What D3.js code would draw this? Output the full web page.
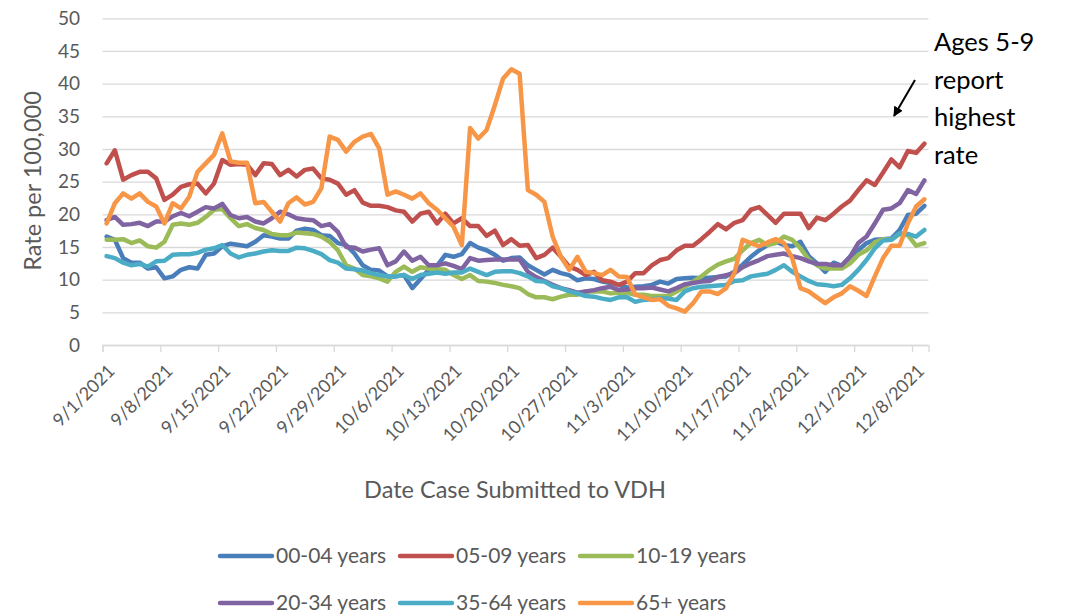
<!DOCTYPE html>
<html>
<head>
<meta charset="utf-8">
<script src="https://cdnjs.cloudflare.com/ajax/libs/d3/7.8.5/d3.min.js"></script>
<style>
  body { margin: 0; background: #fff; }
  svg { font-family: Lato, "Open Sans", sans-serif; }
</style>
</head>
<body>
<div id="chart"></div>
<script>
// daily rates per 100,000, 9/1/2021 .. 12/9/2021
var startDate = Date.UTC(2021, 8, 1);
var yTicks = [0, 5, 10, 15, 20, 25, 30, 35, 40, 45, 50];
var seriesNames = ["00-04 years", "05-09 years", "10-19 years", "20-34 years", "35-64 years", "65+ years"];
var seriesColors = ["#4a7ebb", "#c0504d", "#9bbb59", "#8064a2", "#4bacc6", "#f79646"];

var age0004 = [16.6,16.1,13.3,12.6,12.6,11.7,11.9,10.2,10.5,11.5,11.9,11.7,13.8,14,15.1,15.5,15.3,15.1,15.8,16.8,
  16.6,16.3,16.3,17.5,17.8,17.6,16.8,16.7,15.6,15.3,14,12.2,11.5,11.4,10.5,10.5,10.7,8.7,10.1,11.5,
  12.1,13.8,13.5,13.9,15.6,14.9,14.5,13.8,12.9,13.3,13.4,12.2,11.5,10.8,11.5,11,10.7,9.9,10.2,10.1,
  9.7,9.5,9.2,8.8,8.9,9,9.2,9.7,9.4,10.1,10.2,10.3,10.2,10.3,10.4,10.5,11.2,12.3,13.5,14.5,
  15.3,15.8,15.3,15.1,15.8,13.6,12.5,11.2,12.6,12.1,13.5,14.5,15.6,16.1,16.2,16.3,17.6,19.9,20.1,21.3];
var age0509 = [27.8,29.8,25.3,26,26.5,26.5,25.5,22.2,23,24.2,24.6,24.7,23.2,24.7,28.3,27.6,27.7,27.6,26,27.8,
  27.7,26,26.8,25.8,26.8,27,25.5,25.3,24.7,23,23.7,21.8,21.3,21.3,21.1,20.6,20.4,18.9,20.1,20.4,
  18.6,20.1,18.6,19.4,18.2,18.2,16.7,17.5,15.3,16.2,15.2,15.3,13.3,13.8,14.9,13.5,12,11.5,10.7,11.2,
  9.9,9.7,9.2,9.7,11,11,12.2,13,13.3,14.5,15.2,15.2,16.2,17.3,18.5,17.7,18.7,19.1,20.7,21.1,
  19.9,18.7,20.1,20.1,20.1,17.9,19.5,19.1,20.1,21.2,22.1,23.7,25.2,24.5,26.4,28.4,27.2,29.7,29.4,30.8];
var age1019 = [16.1,16.1,16.2,15.6,16,15.1,14.9,15.8,18.4,18.6,18.4,18.7,19.6,20.7,20.8,19.4,18.2,18.5,17.9,17.6,
  17,16.8,16.8,17.2,17.1,17,16.6,15.8,14.5,12.2,11.7,10.7,10.5,10.2,9.7,11.2,12,11.2,11.9,11.7,
  11.6,11.5,10.7,10.1,10.7,9.8,9.7,9.5,9.2,9,8.7,7.8,7.3,7.3,7,7.4,7.7,7.7,8.2,8.2,
  8.2,7.9,8,8,7.7,7.7,7.5,7.5,7.5,8.2,8.9,9.7,10.5,11.5,12.3,12.8,13.2,14.5,15.6,16.1,
  15.3,15.6,16.6,16.1,14.8,13.1,12.2,11.7,11.7,11.7,12.5,13.8,14.5,15.7,16.2,16.1,17,16.8,15.2,15.6];
var age2034 = [19.1,19.6,18.4,18.5,18.7,18.2,18.9,18.9,19.7,20.2,19.7,20.4,21.1,20.9,21.6,19.9,19.4,19.6,18.9,18.6,
  19.4,20.4,20,19.4,19.2,19.1,18.2,18.5,17.3,15,14.9,14.3,14.6,14.8,12.2,12.8,14.3,12.9,13.5,12.2,
  12.2,12.5,12.1,11.6,13.3,12.9,13,13.1,13.1,13.1,13.1,11.2,10.4,9.8,9.2,8.7,8.4,8,8.2,8.4,
  8.7,8.9,8.4,8.5,8.7,8.7,8.8,8.5,8.2,8.7,9.3,9.5,9.7,9.8,10.4,10.7,11,11.9,12.5,13,
  13.6,13.8,14,13.6,13.3,12.8,12.4,12.4,12.2,12.2,13.5,15.6,16.6,18.6,20.7,20.9,21.7,23.7,23.1,25.2];
var age3564 = [13.6,13.3,12.6,12.2,12.4,12,12.8,12.9,13.8,13.9,13.9,14.1,14.6,14.8,15.3,14,13.4,13.8,14,14.3,
  14.5,14.4,14.4,14.9,14.8,14.4,13.9,13,12.6,11.7,11.6,11.4,11,10.7,10.5,10.5,10.7,10.1,10.7,10.9,
  11.1,10.9,11.1,11.1,11.7,11.2,10.7,11.2,11.3,11.3,11,10.5,9.8,9.7,9,8.7,8.2,7.9,7.5,7.4,
  7.1,6.9,7.3,7.3,6.6,6.9,7,7.1,7.1,6.9,8.2,8.7,8.9,9,9.1,9.2,9.8,9.9,10.5,10.7,
  10.9,11.5,12.2,11.2,10.5,9.8,9.3,9.2,9,9.2,10.2,11.5,13,14.8,16,16.1,17.1,17,16.6,17.6];
var age65 = [18.6,21.7,23.2,22.4,23.2,21.9,21.2,18.6,21.7,20.9,22.7,26.5,27.8,29.1,32.4,28.1,27.9,27.9,21.7,21.9,
  20.4,18.9,21.7,22.6,21.5,21.9,24,31.9,31.4,29.6,31.1,31.9,32.3,30.1,23,23.5,23,22.4,23.2,21.7,
  20.7,19.4,18.1,15.3,33.2,31.6,32.9,36.7,40.8,42.2,41.5,23.7,23,21.9,16.6,13.5,11.5,13.5,11.2,11,
  10.7,11.5,10.5,10.4,7.7,7.3,6.9,7,6,5.6,5.1,6.4,8.2,8.2,7.8,8.7,11,16.1,15.6,15.1,
  15.7,16.2,15.6,13.3,8.7,8.2,7.3,6.4,7.3,7.9,9,8.3,7.5,10.5,13.3,15.2,15.2,18.6,21.2,22.3];

var allSeries = [age0004, age0509, age1019, age2034, age3564, age65];

var width = 1076, height = 616;
var margin = { top: 18.3, right: 147.5, bottom: 271, left: 102.5 };

var svg = d3.select("#chart")
    .append("svg")
    .attr("width", width)
    .attr("height", height);

var dayMs = 86400000;
var x = d3.scaleUtc()
    .domain([new Date(startDate), new Date(startDate + 100 * dayMs)])
    .range([margin.left, width - margin.right]);
var y = d3.scaleLinear()
    .domain([0, 50])
    .range([height - margin.bottom, margin.top]);

// gridlines + y labels
var yAxis = svg.append("g")
    .attr("transform", "translate(" + margin.left + ",0)")
    .call(d3.axisLeft(y).tickValues(yTicks).tickSize(-(width - margin.left - margin.right)).tickPadding(22.5));
yAxis.select(".domain").remove();
yAxis.selectAll(".tick line").attr("stroke", "#d9d9d9").attr("stroke-width", 1.3);
yAxis.selectAll(".tick text")
    .attr("fill", "#595959")
    .attr("font-size", "19px")
    .attr("font-family", "Lato, sans-serif");

// x axis
var weekTicks = d3.range(0, 99, 7).map(function(d) { return new Date(startDate + d * dayMs); });
var xAxis = svg.append("g")
    .attr("transform", "translate(0," + y(0) + ")")
    .call(d3.axisBottom(x).tickValues(weekTicks).tickSize(7).tickFormat(d3.utcFormat("%-m/%-d/%Y")));
xAxis.select(".domain").attr("stroke", "#d9d9d9").attr("stroke-width", 1.3);
xAxis.selectAll(".tick line").attr("stroke", "#d9d9d9").attr("stroke-width", 1.3);
xAxis.selectAll(".tick text")
    .attr("fill", "#595959")
    .attr("font-size", "18px")
    .attr("font-family", "Lato, sans-serif")
    .attr("text-anchor", "end")
    .attr("dy", null)
    .attr("y", null)
    .attr("transform", "translate(13,27) rotate(-45)");

// lines
var line = d3.line()
    .x(function(d, i) { return x(new Date(startDate + (i + 0.5) * dayMs)); })
    .y(function(d) { return y(d); });

svg.selectAll(".series")
    .data(allSeries)
    .enter()
    .append("path")
    .attr("class", "series")
    .attr("d", line)
    .attr("fill", "none")
    .attr("stroke", function(d, i) { return seriesColors[i]; })
    .attr("stroke-width", 4.5)
    .attr("stroke-linejoin", "round")
    .attr("stroke-linecap", "round");

// axis titles
svg.append("text")
    .attr("transform", "translate(41,181) rotate(-90)")
    .attr("text-anchor", "middle")
    .attr("fill", "#595959")
    .attr("font-size", "23.5px")
    .text("Rate per 100,000");

svg.append("text")
    .attr("x", 515)
    .attr("y", 498)
    .attr("text-anchor", "middle")
    .attr("fill", "#595959")
    .attr("font-size", "23.5px")
    .text("Date Case Submitted to VDH");

// legend
var legendPos = [[218, 556], [398, 556], [578, 556], [218, 603], [398, 603], [578, 603]];
var legend = svg.selectAll(".legend")
    .data(seriesNames)
    .enter()
    .append("g")
    .attr("class", "legend")
    .attr("transform", function(d, i) { return "translate(" + legendPos[i][0] + "," + legendPos[i][1] + ")"; });
legend.append("line")
    .attr("x1", 2).attr("x2", 54)
    .attr("stroke", function(d, i) { return seriesColors[i]; })
    .attr("stroke-width", 4.5)
    .attr("stroke-linecap", "round");
legend.append("text")
    .attr("x", 58)
    .attr("dy", "0.35em")
    .attr("fill", "#595959")
    .attr("font-size", "21px")
    .text(function(d) { return d; });

// annotation
var note = ["Ages 5-9", "report", "highest", "rate"];
svg.append("g").selectAll("text")
    .data(note)
    .enter()
    .append("text")
    .attr("x", 934)
    .attr("y", function(d, i) { return 51 + i * 37.5; })
    .attr("fill", "#000")
    .attr("font-size", "25.5px")
    .text(function(d) { return d; });

svg.append("defs").append("marker")
    .attr("id", "arrow")
    .attr("viewBox", "0 0 10 10")
    .attr("refX", 9).attr("refY", 5)
    .attr("markerWidth", 5).attr("markerHeight", 5)
    .attr("orient", "auto")
    .append("path")
    .attr("d", "M0,0L10,5L0,10z")
    .attr("fill", "#000");
svg.append("line")
    .attr("x1", 915).attr("y1", 80)
    .attr("x2", 894).attr("y2", 116)
    .attr("stroke", "#000")
    .attr("stroke-width", 2)
    .attr("marker-end", "url(#arrow)");
</script>
</body>
</html>
